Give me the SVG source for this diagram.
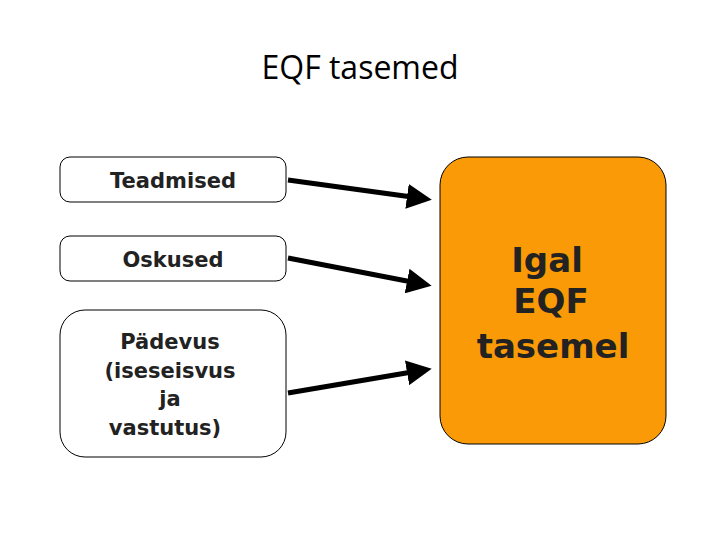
<svg xmlns="http://www.w3.org/2000/svg" width="720" height="540" viewBox="0 0 720 540">
<style>
.box{fill:#fff;stroke:#000;stroke-width:1}
.t{font-family:"DejaVu Sans",sans-serif;font-weight:bold;font-size:21px;fill:#222;text-anchor:middle}
.big{font-family:"DejaVu Sans",sans-serif;font-weight:bold;font-size:34px;fill:#222;text-anchor:middle}
.c{stroke:#000;stroke-width:5;fill:none;marker-end:url(#a)}
</style>
<defs><marker id="a" markerWidth="5" markerHeight="5" refX="1" refY="2.5" orient="auto" markerUnits="strokeWidth"><path d="M0,0L5,2.5L0,5Z" fill="#000"/></marker></defs>
<rect width="720" height="540" fill="#fff"/>
<text x="360" y="79" font-family="Open Sans,sans-serif" font-size="32" text-anchor="middle" fill="#000">EQF tasemed</text>
<g id="n1"><rect class="box" x="60" y="157" width="226" height="45" rx="10"/><text class="t" x="173" y="188">Teadmised</text></g>
<g id="n2"><rect class="box" x="60" y="236" width="226" height="45" rx="10"/><text class="t" x="173" y="267">Oskused</text></g>
<g id="n3"><rect class="box" x="60" y="310" width="226" height="147" rx="25"/><text class="t" x="170" y="349">Pädevus</text><text class="t" x="170" y="378">(iseseisvus</text><text class="t" x="170" y="406">ja</text><text class="t" x="165" y="435">vastutus)</text></g>
<g id="n4"><rect x="440" y="157" width="226" height="287" rx="28" fill="#f99a06" stroke="#000"/><text class="big" x="547" y="272">Igal</text><text class="big" x="551" y="313">EQF</text><text class="big" x="553" y="358">tasemel</text></g>
<g id="edges">
<line class="c" x1="288" y1="180" x2="412" y2="197"/>
<line class="c" x1="288" y1="258" x2="412" y2="282"/>
<line class="c" x1="288" y1="393" x2="412" y2="372"/>
</g>
</svg>
